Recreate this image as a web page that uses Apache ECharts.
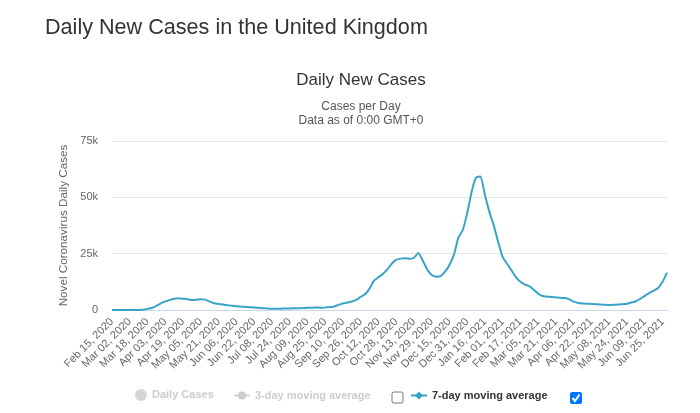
<!DOCTYPE html>
<html>
<head>
<meta charset="utf-8">
<title>Daily New Cases in the United Kingdom</title>
<script src="https://cdn.jsdelivr.net/npm/echarts@6/dist/echarts.min.js"></script>
<style>
  html, body { margin: 0; padding: 0; background: #fff; }
  #chart { width: 700px; height: 413px; }
</style>
</head>
<body>
<div id="chart"></div>
<script>
////////////////////
// data (7-day moving average, one value every 4 days from Feb 15, 2020)
////////////////////
var start_day = Date.UTC(2020, 1, 15);
var step_days = 4;
var cases_7day = [
    0, 0, 0, 2, 5, 25, 50, 150, 500, 900,
    1800, 2900, 3800, 4400, 5000, 5200, 5000, 4800, 4400, 4500,
    4800, 4600, 3700, 3000, 2700, 2400, 2100, 1900, 1700, 1500,
    1350, 1250, 1150, 950, 800, 650, 550, 550, 600, 650,
    700, 750, 800, 850, 950, 1050, 1100, 1050, 1150, 1300,
    1500, 2300, 2900, 3300, 3800, 4500, 5800, 7000, 9500, 13000,
    14500, 16000, 18000, 20500, 22200, 22800, 23000, 22700, 23200, 25300,
    22000, 18000, 15500, 14800, 15000, 17000, 20000, 24500, 32000, 35500,
    43000, 52500, 58800, 59300, 51000, 43500, 37500, 30000, 23500, 20500,
    17500, 14500, 12500, 11300, 10600, 9000, 7200, 6200, 5900, 5800,
    5600, 5400, 5300, 4700, 3700, 3100, 2900, 2800, 2700, 2600,
    2400, 2300, 2200, 2300, 2400, 2600, 2800, 3300, 3900, 5000,
    6300, 7500, 8600, 9800, 12500, 16600
];
var y_ticks = [0, 25000, 50000, 75000];
var legend_names = ['Daily Cases', '3-day moving average', '7-day moving average'];

var month_names = ['Jan','Feb','Mar','Apr','May','Jun','Jul','Aug','Sep','Oct','Nov','Dec'];
var dates = [];
for (var i = 0; i < cases_7day.length; i++) {
    var d = new Date(start_day + i * step_days * 86400000);
    var dd = d.getUTCDate();
    dates.push(month_names[d.getUTCMonth()] + ' ' + (dd < 10 ? '0' + dd : dd) + ', ' + d.getUTCFullYear());
}

////////////////////
// chart
////////////////////
var line_color = '#3aa3c8';
var font = 'Liberation Sans';
var mychart = echarts.init(document.getElementById('chart'));

var legend_selected = {
    'Daily Cases': false,
    '3-day moving average': false,
    '7-day moving average': true
};
var legend_base = {
    bottom: 7,
    itemWidth: 16,
    itemHeight: 10,
    inactiveColor: '#cccccc',
    selected: legend_selected,
    textStyle: { fontFamily: font, fontSize: 11, fontWeight: 'bold', color: '#333' }
};

var chart_option = {
    animation: false,
    textStyle: { fontFamily: font },
    graphic: [
        { type: 'text', left: 45, top: 17,
          style: { text: 'Daily New Cases in the United Kingdom', fontFamily: font, fontSize: 21.6, fill: '#333' } },
        { type: 'text', x: 361, y: 80,
          style: { text: 'Daily New Cases', fontFamily: font, fontSize: 17, fill: '#333', align: 'center', verticalAlign: 'middle' } },
        { type: 'text', x: 361, y: 107,
          style: { text: 'Cases per Day', fontFamily: font, fontSize: 12, fill: '#555', align: 'center', verticalAlign: 'middle' } },
        { type: 'text', x: 361, y: 121,
          style: { text: 'Data as of 0:00 GMT+0', fontFamily: font, fontSize: 12, fill: '#555', align: 'center', verticalAlign: 'middle' } },
        // legend checkboxes
        { type: 'rect', shape: { x: 392, y: 392, width: 11, height: 11, r: 2 },
          style: { fill: '#fff', stroke: '#767676', lineWidth: 1 } },
        { type: 'rect', shape: { x: 570, y: 392, width: 12, height: 12, r: 2 },
          style: { fill: '#0075ff' } },
        { type: 'polyline', shape: { points: [[572.5, 398], [575, 401], [579.5, 394.5]] },
          style: { stroke: '#fff', lineWidth: 2, fill: null } }
    ],
    grid: { left: 112, right: 33, top: 141, bottom: 103 },
    legend: [
        Object.assign({}, legend_base, { left: 130, data: [{ name: legend_names[0], icon: 'circle' }], itemWidth: 12, itemHeight: 12 }),
        Object.assign({}, legend_base, { left: 228, data: [legend_names[1]] }),
        Object.assign({}, legend_base, { left: 405, data: [legend_names[2]] })
    ],
    xAxis: {
        type: 'category',
        boundaryGap: false,
        data: dates,
        axisLine: { lineStyle: { color: '#ccd6eb' } },
        axisTick: { show: false },
        axisLabel: { interval: 3, rotate: 45, fontSize: 11, color: '#666', margin: 10 }
    },
    yAxis: {
        type: 'value',
        min: y_ticks[0],
        max: y_ticks[y_ticks.length - 1],
        interval: y_ticks[1] - y_ticks[0],
        name: 'Novel Coronavirus Daily Cases',
        nameLocation: 'middle',
        nameGap: 41,
        nameTextStyle: { color: '#666', fontSize: 11.7 },
        splitLine: { lineStyle: { color: '#e6e6e6' } },
        axisLabel: {
            color: '#666', fontSize: 11, margin: 14,
            formatter: function (v) { return v === 0 ? '0' : (v / 1000) + 'k'; }
        }
    },
    series: [
        { name: legend_names[0], type: 'scatter', symbol: 'circle', data: [], itemStyle: { color: '#999' } },
        { name: legend_names[1], type: 'line', symbol: 'circle', data: [], itemStyle: { color: '#999' } },
        {
            name: legend_names[2],
            type: 'line',
            symbol: 'diamond',
            symbolSize: 7,
            showSymbol: false,
            smooth: 0.15,
            data: cases_7day,
            lineStyle: { color: line_color, width: 2 },
            itemStyle: { color: line_color }
        }
    ]
};
mychart.setOption(chart_option);
</script>
</body>
</html>
